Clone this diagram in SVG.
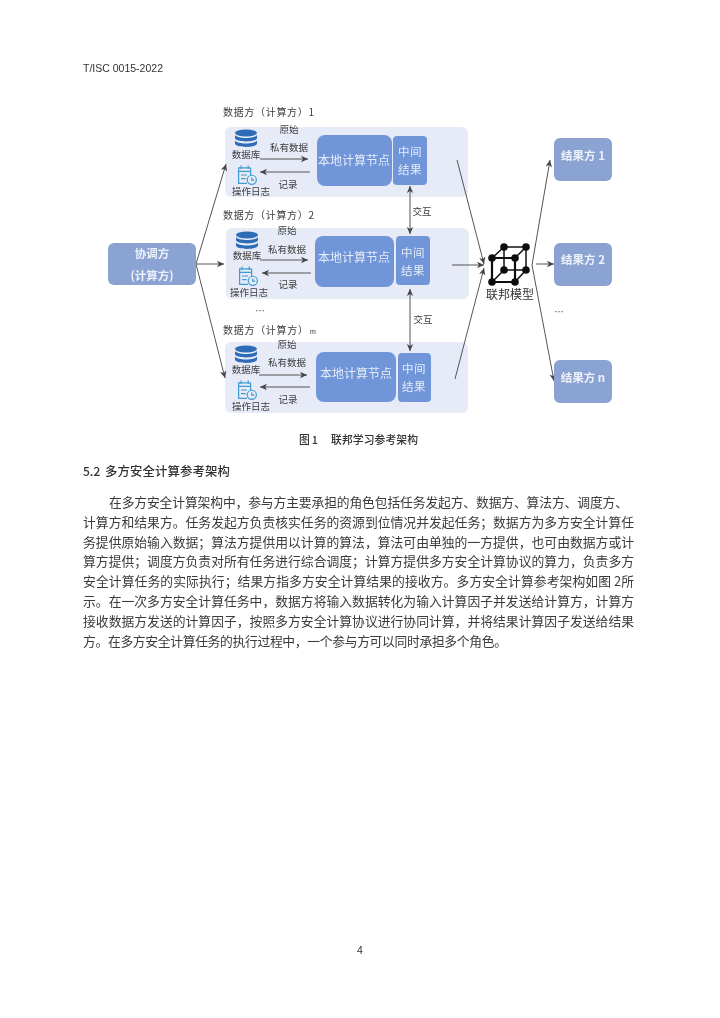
<svg xmlns="http://www.w3.org/2000/svg" width="720" height="1018" viewBox="0 0 720 1018">
<style>
text{font-family:"Noto Sans CJK SC","Liberation Sans",sans-serif;fill:#333}
.lat{font-family:"Liberation Sans","Noto Sans CJK SC",sans-serif}
.l{font-size:9.5px;text-anchor:middle;fill:#3c3c3c}
.h{font-size:10px;fill:#3c3c3c}
.w{fill:#e6ecf8;font-size:12px;text-anchor:middle}
.wm{fill:#e6ecf8;font-size:11.5px;text-anchor:middle;letter-spacing:.5px}
.wb{fill:#eef1f9;font-size:11.5px;font-weight:700;text-anchor:middle}
.b{font-size:12.8px;fill:#3a3a3a}
.panel{fill:#e6ebf7}
.local{fill:#6f95d9}
.soft{fill:#8aa3d3}
.c{fill:none;stroke:#555;stroke-width:1}
.cube{stroke:#111;stroke-width:1.5;fill:none}
.cubef{stroke:#111;stroke-width:2.2;fill:none}
</style>
<defs>
<filter id="soft" x="0" y="0" width="100%" height="100%"><feGaussianBlur stdDeviation="0.45"/></filter>
<marker id="a" markerWidth="9" markerHeight="8" refX="7.5" refY="4" orient="auto-start-reverse" markerUnits="userSpaceOnUse"><path d="M0.5 0.8L7.5 4L0.5 7.2L2.4 4Z" fill="#444"/></marker>
<g id="db"><ellipse cx="0" cy="3" rx="11" ry="3.4" fill="#2f6db5"/><path d="M-11 5v3c0 2 5 3.4 11 3.4s11-1.4 11-3.4V5c-1 2-6 3-11 3s-10-1-11-3ZM-11 10.500v3c0 2 5 3.400 11 3.400s11-1.400 11-3.400v-3c-1 2-6 3-11 3s-10-1-11-3Z" fill="#2f6db5"/></g>
<g id="log" fill="none" stroke="#3f9bd2" stroke-width="1"><path d="M3 -6H-7V7H0"/><path d="M3 -6V0M-7 -3H3M-5 -8V-5M1 -8V-5M-5 0H0M-5 3H-1"/><circle cx="4" cy="4" r="3.800" fill="#e6ebf7"/><path d="M4 2V4.300H6"/></g>
</defs>
<rect width="720" height="1018" fill="#fff"/>
<g filter="url(#soft)">
<g id="page-header"><text class="lat" x="83" y="72" font-size="10.500" fill="#333">T/ISC 0015-2022</text></g>

<g id="panel-1"><rect class="panel" x="225" y="127" width="243" height="70" rx="6"/></g>
<g id="panel-2"><rect class="panel" x="226" y="228" width="243" height="71" rx="6"/></g>
<g id="panel-3"><rect class="panel" x="225" y="342" width="243" height="71" rx="6"/></g>

<g id="connectors">
<path class="c" marker-end="url(#a)" d="M196 264L226 164"/>
<path class="c" marker-end="url(#a)" d="M196 264H224"/>
<path class="c" marker-end="url(#a)" d="M196 264L225 378"/>
<path class="c" marker-end="url(#a)" d="M260 159H308"/>
<path class="c" marker-end="url(#a)" d="M310 172H260"/>
<path class="c" marker-end="url(#a)" d="M260 260H308"/>
<path class="c" marker-end="url(#a)" d="M311 273H262"/>
<path class="c" marker-end="url(#a)" d="M259 375H307"/>
<path class="c" marker-end="url(#a)" d="M310 387H260"/>
<path class="c" marker-start="url(#a)" marker-end="url(#a)" d="M410 186V234"/>
<path class="c" marker-start="url(#a)" marker-end="url(#a)" d="M410 289V351"/>
<path class="c" marker-end="url(#a)" d="M457 160L484 264"/>
<path class="c" marker-end="url(#a)" d="M452 265H484"/>
<path class="c" marker-end="url(#a)" d="M455 379L484 268"/>
<path class="c" marker-end="url(#a)" d="M532 265L550 160"/>
<path class="c" marker-end="url(#a)" d="M536 264H554"/>
<path class="c" marker-end="url(#a)" d="M532 265L554 381"/>
</g>

<g id="coordinator"><rect class="soft" x="108" y="243" width="88" height="42" rx="6"/><text class="wb" x="152" y="258">协调方</text><text class="wb" x="152" y="280">(计算方)</text></g>

<g id="party-1">
<text class="h" x="223" y="116" textLength="91">数据方（计算方）1</text>
<g id="db-1"><use href="#db" x="246" y="130"/><text class="l" x="246" y="158">数据库</text></g>
<g id="log-1"><use href="#log" transform="translate(247 175) scale(1.2)"/><text class="l" x="251" y="195">操作日志</text></g>
<text class="l" x="289" y="133">原始</text><text class="l" x="289" y="151">私有数据</text><text class="l" x="288" y="188">记录</text>
<g id="local-1"><rect class="local" x="317" y="135" width="75" height="51" rx="8"/><text class="w" x="354" y="165">本地计算节点</text></g>
<g id="mid-1"><rect class="local" x="393" y="136" width="34" height="49" rx="4"/><text class="wm" x="410" y="156">中间</text><text class="wm" x="410" y="174">结果</text></g>
</g>

<g id="party-2">
<text class="h" x="223" y="219" textLength="91">数据方（计算方）2</text>
<g id="db-2"><use href="#db" x="247" y="232"/><text class="l" x="247" y="259">数据库</text></g>
<g id="log-2"><use href="#log" transform="translate(248 276) scale(1.2)"/><text class="l" x="249" y="296">操作日志</text></g>
<text class="l" x="287" y="234">原始</text><text class="l" x="287" y="253">私有数据</text><text class="l" x="288" y="288">记录</text>
<g id="local-2"><rect class="local" x="315" y="236" width="79" height="51" rx="8"/><text class="w" x="354" y="262">本地计算节点</text></g>
<g id="mid-2"><rect class="local" x="396" y="236" width="34" height="49" rx="4"/><text class="wm" x="413" y="257">中间</text><text class="wm" x="413" y="275">结果</text></g>
</g>

<g id="party-3">
<text class="h" x="223" y="334" textLength="85">数据方（计算方）</text><text class="lat" x="310" y="334" font-size="7" fill="#444">m</text>
<g id="db-3"><use href="#db" x="246" y="346"/><text class="l" x="246" y="373">数据库</text></g>
<g id="log-3"><use href="#log" transform="translate(247 390) scale(1.2)"/><text class="l" x="251" y="410">操作日志</text></g>
<text class="l" x="287" y="348">原始</text><text class="l" x="287" y="366">私有数据</text><text class="l" x="288" y="403">记录</text>
<g id="local-3"><rect class="local" x="316" y="352" width="80" height="50" rx="8"/><text class="w" x="356" y="378">本地计算节点</text></g>
<g id="mid-3"><rect class="local" x="398" y="353" width="33" height="49" rx="4"/><text class="wm" x="414" y="373">中间</text><text class="wm" x="414" y="391">结果</text></g>
</g>

<text class="l" x="422" y="215">交互</text>
<text class="l" x="423" y="323">交互</text>
<text class="l" x="260" y="314">…</text>
<text class="l" x="559" y="315">…</text>

<g id="federated-model">
<path class="cube" d="M504 247H526V270H504ZM492 258L504 247M515 258L526 247M492 282L504 270M515 282L526 270"/>
<path class="cubef" d="M492 258H515V282H492Z"/>
<g fill="#111"><circle cx="492" cy="258" r="3.800"/><circle cx="515" cy="258" r="3.800"/><circle cx="492" cy="282" r="3.800"/><circle cx="515" cy="282" r="3.800"/><circle cx="504" cy="247" r="3.800"/><circle cx="526" cy="247" r="3.800"/><circle cx="504" cy="270" r="3.800"/><circle cx="526" cy="270" r="3.800"/></g>
<text x="510" y="299" font-size="12" text-anchor="middle" fill="#444">联邦模型</text>
</g>

<g id="result-1"><rect class="soft" x="554" y="138" width="58" height="43" rx="6"/><text class="wb" x="583" y="160">结果方 1</text></g>
<g id="result-2"><rect class="soft" x="554" y="243" width="58" height="43" rx="6"/><text class="wb" x="583" y="264">结果方 2</text></g>
<g id="result-n"><rect class="soft" x="554" y="360" width="58" height="43" rx="6"/><text class="wb" x="583" y="382">结果方 n</text></g>

<text x="299" y="444" font-size="10.800" font-weight="500" textLength="19">图 1</text>
<text x="331" y="444" font-size="10.800" font-weight="500" textLength="87">联邦学习参考架构</text>

<text x="83" y="476" font-size="12" font-weight="500">5.2</text>
<text x="105" y="476" font-size="12.400" font-weight="500" textLength="125">多方安全计算参考架构</text>

<g id="body">
<text class="b" x="109" y="507" textLength="519">在多方安全计算架构中，参与方主要承担的角色包括任务发起方、数据方、算法方、调度方、</text>
<text class="b" x="83" y="527" textLength="551">计算方和结果方。任务发起方负责核实任务的资源到位情况并发起任务；数据方为多方安全计算任</text>
<text class="b" x="83" y="547" textLength="551">务提供原始输入数据；算法方提供用以计算的算法，算法可由单独的一方提供，也可由数据方或计</text>
<text class="b" x="83" y="566" textLength="551">算方提供；调度方负责对所有任务进行综合调度；计算方提供多方安全计算协议的算力，负责多方</text>
<text class="b" x="83" y="586" textLength="551">安全计算任务的实际执行；结果方指多方安全计算结果的接收方。多方安全计算参考架构如图 2所</text>
<text class="b" x="83" y="606" textLength="551">示。在一次多方安全计算任务中，数据方将输入数据转化为输入计算因子并发送给计算方，计算方</text>
<text class="b" x="83" y="626" textLength="551">接收数据方发送的计算因子，按照多方安全计算协议进行协同计算，并将结果计算因子发送给结果</text>
<text class="b" x="83" y="646" textLength="424">方。在多方安全计算任务的执行过程中，一个参与方可以同时承担多个角色。</text>
</g>

<text class="lat" x="360" y="954" font-size="10.500" text-anchor="middle" fill="#333">4</text>
</g>
</svg>
